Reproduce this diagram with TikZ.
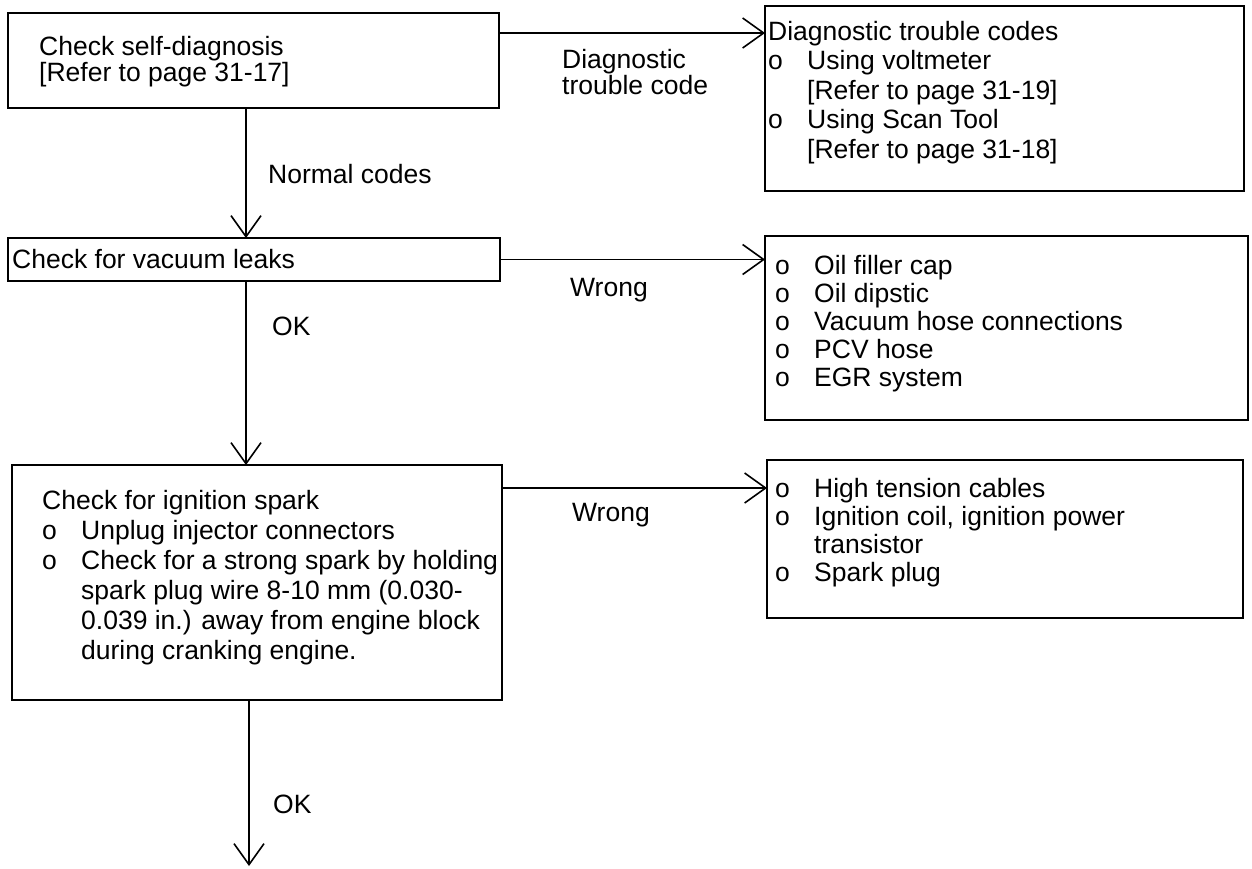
\documentclass[tikz,border=0pt]{standalone}
\usepackage{fontspec}
\setmainfont{Liberation Sans}
\usetikzlibrary{arrows.meta}
\newcommand\bul{\makebox[39pt][l]{o}}
\newcommand\ind{\hspace*{39pt}}
\newcommand\tallrule{\rule{0pt}{20pt}}
\newcommand\blockfont[1]{\fontsize{26.5}{#1}\selectfont\lineskiplimit=-40pt\relax\lineskip=0pt\relax}
\tikzset{
  box/.style={draw,line width=1.6pt,rectangle,inner sep=0pt,outer sep=0pt,anchor=north west},
  txt/.style={anchor=base west,inner sep=0pt,font={\fontsize{26.5}{27}\selectfont}},
  block/.style={anchor=north west,inner sep=0pt,align=left,font={\blockfont{#1}}},
  conn/.style={line width=1.6pt},
  arrow/.style={conn,-{Straight Barb[length=21pt,width=30pt,line width=1.6pt]}}
}
\begin{document}
\begin{tikzpicture}[x=1pt,y=-1pt]
\useasboundingbox (0,0) rectangle (1252,868);

% boxes
\node[box,minimum width=491pt,minimum height=95pt] (A) at (8,13) {};
\node[box,minimum width=479pt,minimum height=185pt] (B) at (765,6) {};
\node[box,minimum width=492pt,minimum height=43pt] (C) at (8,238) {};
\node[box,minimum width=483pt,minimum height=184pt] (D) at (765,236) {};
\node[box,minimum width=490pt,minimum height=235pt] (E) at (12,465) {};
\node[box,minimum width=476pt,minimum height=158pt] (F) at (767,460) {};

% box texts (first baseline sits 20pt below each anchor)
\node[block=26] (ta) at (39,35) {\tallrule Check self-diagnosis\\
  {}[Refer to page 31-17]};
\node[block=29.5] (tb) at (768,20) {\tallrule Diagnostic trouble codes\\
  \bul Using voltmeter\\
  \ind {}[Refer to page 31-19]\\
  \bul Using Scan Tool\\
  \ind {}[Refer to page 31-18]};
\node[txt] (tc) at (12,268) {Check for vacuum leaks};
\node[block=28] (td) at (775,254) {\tallrule\bul Oil filler cap\\
  \bul Oil dipstic\\
  \bul Vacuum hose connections\\
  \bul PCV hose\\
  \bul EGR system};
\node[block=30] (te) at (42,489) {\tallrule Check for ignition spark\\
  \bul Unplug injector connectors\\
  \bul Check for a strong spark by holding\\
  \ind spark plug wire 8-10 mm (0.030-\\
  \ind 0.039 in.) away from engine block\\
  \ind during cranking engine.};
\node[block=28] (tf) at (775,477) {\tallrule\bul High tension cables\\
  \bul Ignition coil, ignition power\\
  \ind transistor\\
  \bul Spark plug};

% connector labels
\node[block=26] (l1) at (562,48) {\tallrule Diagnostic\\trouble code};
\node[txt] (l3) at (268,183) {Normal codes};
\node[txt] (l4) at (570,296) {Wrong};
\node[txt] (l5) at (272,335) {OK};
\node[txt] (l6) at (572,521) {Wrong};
\node[txt] (l7) at (273,813) {OK};

% connectors
\coordinate (ab) at ([yshift=-20pt]A.north east);
\draw[arrow] (ab) -- (ab -| B.west);
\coordinate (vx) at (246,0);
\draw[arrow] (vx |- A.south) -- (vx |- C.north);
\draw[arrow] (C.east) -- (C.east -| D.west);
\draw[arrow] (vx |- C.south) -- (vx |- E.north);
\coordinate (ef) at ([yshift=-23pt]E.north east);
\draw[arrow] (ef) -- (ef -| F.west);
\coordinate (out) at (249,866);
\draw[arrow] (out |- E.south) -- (out);
\end{tikzpicture}
\end{document}
